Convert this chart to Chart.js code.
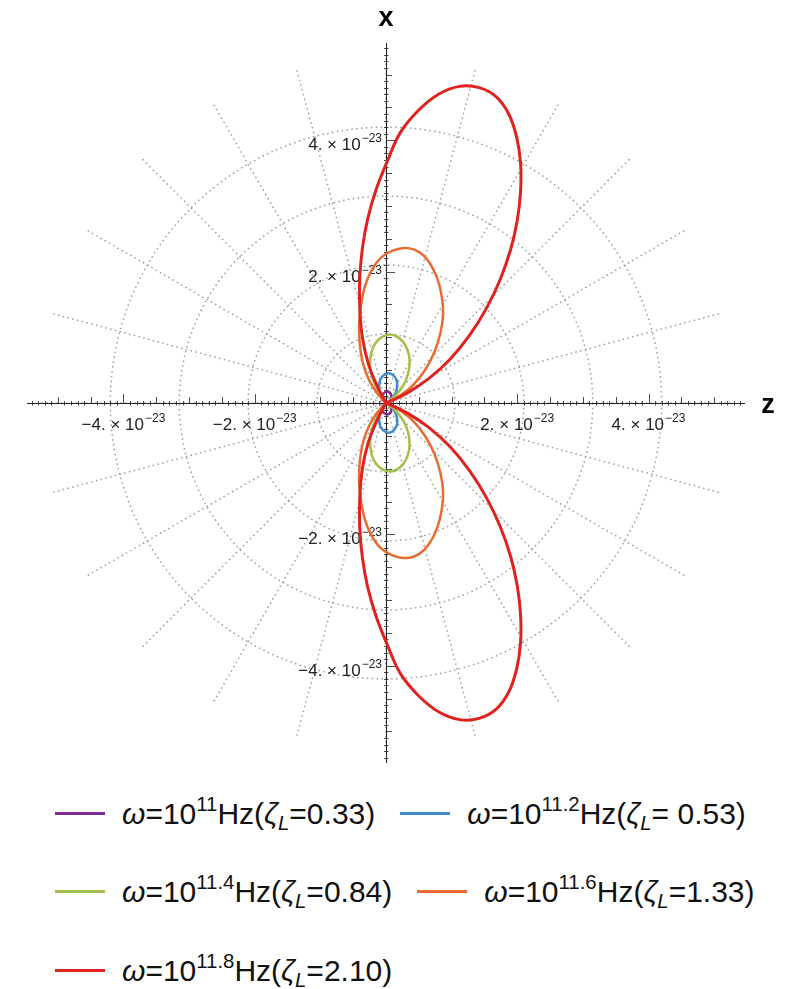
<!DOCTYPE html>
<html>
<head>
<meta charset="utf-8">
<script src="https://cdn.jsdelivr.net/npm/chart.js@4.4.1/dist/chart.umd.min.js"></script>
<style>
  html, body { margin: 0; padding: 0; background: #fff; }
  #wrap { position: relative; width: 785px; height: 989px; overflow: hidden; font-family: "Liberation Sans", Arial, sans-serif; color: #111; }
  #plot { position: absolute; left: 0; top: 0; width: 785px; height: 780px; }
  #legend { position: absolute; left: 55px; top: 788px; }
  .row { display: flex; align-items: center; height: 50px; margin-bottom: 28.5px; }
  .item { display: flex; align-items: center; margin-right: 25px; font-size: 30px; white-space: nowrap; line-height: 1.1; }
  .swatch { width: 50px; height: 3px; margin-right: 17px; }
  .item sup, .item sub { font-size: 0.68em; line-height: 1; position: relative; vertical-align: baseline; }
  .item sup { top: -0.62em; }
  .item sub { top: 0.3em; }
</style>
</head>
<body>
<div id="wrap">
  <canvas id="plot" width="785" height="780"></canvas>
  <div id="legend"></div>
</div>
<script>
// Lobes, [z, x] in units of 1e-23
const purpleUpper = [[0,0],[-0.05,0.05],[-0.06,0.11],[-0.02,0.16],[0.04,0.17],[0.08,0.12],[0.07,0.05],[0.03,0.01],[0,0]];
const purpleLower = [[0,0],[-0.05,-0.05],[-0.06,-0.11],[-0.02,-0.16],[0.04,-0.17],[0.08,-0.12],[0.07,-0.05],[0.03,-0.01],[0,0]];

const blueUpper = [[0,0],[-0.06,0.09],[-0.10,0.20],[-0.10,0.31],[-0.06,0.40],[0.02,0.45],[0.10,0.43],[0.16,0.35],[0.17,0.24],[0.13,0.12],[0.06,0.04],[0,0]];
const blueLower = [[0,0],[-0.06,-0.09],[-0.10,-0.20],[-0.10,-0.31],[-0.06,-0.40],[0.02,-0.45],[0.10,-0.43],[0.16,-0.35],[0.17,-0.24],[0.13,-0.12],[0.06,-0.04],[0,0]];

const greenUpper = [[0,0],[-0.08,0.12],[-0.17,0.28],[-0.23,0.47],[-0.24,0.66],[-0.20,0.84],[-0.11,0.97],[0.02,1.04],[0.15,1.02],[0.26,0.93],[0.33,0.80],[0.36,0.64],[0.34,0.46],[0.27,0.28],[0.15,0.12],[0,0]];
const greenLower = [[0,0],[-0.08,-0.12],[-0.17,-0.28],[-0.23,-0.47],[-0.24,-0.66],[-0.20,-0.84],[-0.11,-0.97],[0.02,-1.04],[0.15,-1.02],[0.26,-0.93],[0.33,-0.80],[0.36,-0.64],[0.34,-0.46],[0.27,-0.28],[0.15,-0.12],[0,0]];

const orangeUpper = [[0,0],[-0.12,0.13],[-0.25,0.33],[-0.35,0.60],[-0.40,0.90],[-0.41,1.20],[-0.38,1.50],[-0.32,1.78],[-0.22,2.02],[-0.08,2.21],[0.10,2.32],[0.30,2.36],[0.50,2.30],[0.66,2.14],[0.78,1.90],[0.85,1.62],[0.87,1.35],[0.83,1.07],[0.74,0.78],[0.60,0.51],[0.42,0.28],[0.21,0.11],[0,0]];
const orangeLower = [[0,0],[-0.12,-0.13],[-0.25,-0.33],[-0.35,-0.60],[-0.40,-0.90],[-0.41,-1.20],[-0.38,-1.50],[-0.32,-1.78],[-0.22,-2.02],[-0.08,-2.21],[0.10,-2.32],[0.30,-2.36],[0.50,-2.30],[0.66,-2.14],[0.78,-1.90],[0.85,-1.62],[0.87,-1.35],[0.83,-1.07],[0.74,-0.78],[0.60,-0.51],[0.42,-0.28],[0.21,-0.11],[0,0]];

const redUpper = [[0,0],[-0.13,0.25],[-0.27,0.60],[-0.36,1.00],[-0.40,1.45],[-0.40,1.90],[-0.36,2.35],[-0.28,2.80],[-0.15,3.25],[0.02,3.68],[0.22,4.12],[0.50,4.46],[0.80,4.70],[1.12,4.82],[1.42,4.80],[1.68,4.66],[1.87,4.40],[1.99,4.05],[2.05,3.65],[2.05,3.22],[2.00,2.78],[1.90,2.34],[1.74,1.88],[1.53,1.44],[1.28,1.04],[0.98,0.67],[0.65,0.37],[0.32,0.15],[0,0]];
const redLower = [[0,0],[-0.13,-0.25],[-0.27,-0.60],[-0.36,-1.00],[-0.40,-1.45],[-0.40,-1.90],[-0.36,-2.35],[-0.28,-2.80],[-0.15,-3.25],[0.02,-3.68],[0.22,-4.12],[0.50,-4.46],[0.80,-4.70],[1.12,-4.82],[1.42,-4.80],[1.68,-4.66],[1.87,-4.40],[1.99,-4.05],[2.05,-3.65],[2.05,-3.22],[2.00,-2.78],[1.90,-2.34],[1.74,-1.88],[1.53,-1.44],[1.28,-1.04],[0.98,-0.67],[0.65,-0.37],[0.32,-0.15],[0,0]];

// legend text
const freqExp = ['11', '11.2', '11.4', '11.6', '11.8'];
const zetaL = ['0.33', ' 0.53', '0.84', '1.33', '2.10'];
const colors = ['#7e2a8e', '#3f8ccc', '#a2c04a', '#e86b31', '#e0221f'];
const widths = [2.5, 2.5, 2.5, 2.5, 3];

// axes / polar grid
const tickLabels = [-4, -2, 2, 4];
const tickExp = '\u221223';
const gridRadii = [1.05, 2.1, 3.15, 4.2];
const gridOuter = 5.25;
const gridStepDeg = 15;

const lobes = [
  [purpleUpper, purpleLower],
  [blueUpper, blueLower],
  [greenUpper, greenLower],
  [orangeUpper, orangeLower],
  [redUpper, redLower]
];

const toPts = arr => arr.map(p => ({ x: p[0], y: p[1] }));

const datasets = lobes.map((l, i) => ({
  data: [...toPts(l[0]), { x: null, y: null }, ...toPts(l[1])],
  showLine: true,
  borderColor: colors[i],
  borderWidth: widths[i],
  pointRadius: 0,
  tension: 0.4,
  fill: false,
  spanGaps: false,
  order: lobes.length - i
}));

const FONT = '"Liberation Sans", Arial, sans-serif';

// draw "4. × 10^-23" style label
function drawSci(ctx, v, x, y, align) {
  const mant = (v < 0 ? '\u2212' : '') + Math.abs(v) + '. \u00d7 10';
  ctx.font = '17px ' + FONT;
  const w1 = ctx.measureText(mant).width;
  ctx.font = '12px ' + FONT;
  const w2 = ctx.measureText(tickExp).width;
  const total = w1 + 1 + w2;
  const left = align === 'right' ? x - total : x - total / 2;
  ctx.textAlign = 'left';
  ctx.textBaseline = 'alphabetic';
  ctx.font = '17px ' + FONT;
  ctx.fillText(mant, left, y);
  ctx.font = '12px ' + FONT;
  ctx.fillText(tickExp, left + w1 + 1, y - 8);
}

const polarPlugin = {
  id: 'polarAxes',
  beforeDatasetsDraw(chart) {
    const { ctx, chartArea: a, scales: { x: sx, y: sy } } = chart;
    const cx = sx.getPixelForValue(0);
    const cy = sy.getPixelForValue(0);
    const kx = sx.getPixelForValue(1) - cx;
    const ky = cy - sy.getPixelForValue(1);

    // dotted polar grid
    ctx.save();
    ctx.strokeStyle = '#9c9c9c';
    ctx.lineWidth = 1.5;
    ctx.setLineDash([1.5, 3.4]);
    gridRadii.forEach(r => {
      ctx.beginPath();
      ctx.ellipse(cx, cy, r * kx, r * ky, 0, 0, Math.PI * 2);
      ctx.stroke();
    });
    for (let d = 0; d < 360; d += gridStepDeg) {
      const t = d * Math.PI / 180;
      ctx.beginPath();
      ctx.moveTo(cx, cy);
      ctx.lineTo(cx + Math.cos(t) * gridOuter * kx, cy - Math.sin(t) * gridOuter * ky);
      ctx.stroke();
    }
    ctx.restore();

    // axes
    ctx.save();
    ctx.strokeStyle = '#222';
    ctx.lineWidth = 1;
    ctx.beginPath();
    ctx.moveTo(a.left, cy + 0.5); ctx.lineTo(a.right, cy + 0.5);
    ctx.moveTo(cx + 0.5, a.top); ctx.lineTo(cx + 0.5, a.bottom);
    ctx.stroke();

    ctx.lineWidth = 0.8;
    ctx.beginPath();
    for (let i = -54; i <= 54; i++) {
      if (i === 0) continue;
      const v = i / 10;
      const px = Math.round(sx.getPixelForValue(v)) + 0.5;
      const py = Math.round(sy.getPixelForValue(v)) + 0.5;
      let len = 0;
      if (i % 20 === 0) len = 9;
      else if (i % 5 === 0) len = 6;
      if (len) {
        ctx.moveTo(px, cy); ctx.lineTo(px, cy - len);
        ctx.moveTo(cx, py); ctx.lineTo(cx + len, py);
      } else {
        ctx.moveTo(px, cy - 2); ctx.lineTo(px, cy + 2.5);
        ctx.moveTo(cx - 2, py); ctx.lineTo(cx + 2.5, py);
      }
    }
    ctx.stroke();

    ctx.fillStyle = '#222';
    tickLabels.forEach(v => {
      drawSci(ctx, v, sx.getPixelForValue(v), cy + 27, 'center');
      drawSci(ctx, v, cx - 4, sy.getPixelForValue(v) + 10, 'right');
    });

    // axis names
    ctx.fillStyle = '#000';
    ctx.font = 'bold 27px ' + FONT;
    ctx.textAlign = 'center';
    ctx.textBaseline = 'alphabetic';
    ctx.fillText('x', cx, 26);
    ctx.fillText('z', 768, cy + 10);
    ctx.restore();
  }
};

new Chart(document.getElementById('plot'), {
  type: 'scatter',
  data: { datasets },
  options: {
    responsive: false,
    animation: false,
    devicePixelRatio: 1,
    layout: { padding: { left: 27, right: 40, top: 43, bottom: 17 } },
    scales: {
      x: { type: 'linear', min: -5.47, max: 5.47, display: false },
      y: { type: 'linear', min: -5.48, max: 5.48, display: false }
    },
    plugins: { legend: { display: false }, tooltip: { enabled: false } }
  },
  plugins: [polarPlugin]
});

// legend rows laid out like the original (2, 2, 1)
const rows = [[0, 1], [2, 3], [4]];
const legend = document.getElementById('legend');
rows.forEach(r => {
  const row = document.createElement('div');
  row.className = 'row';
  r.forEach(i => {
    const item = document.createElement('div');
    item.className = 'item';
    item.innerHTML = '<span class="swatch" style="background:' + colors[i] + '"></span>' +
      '<span><i>\u03c9</i>=10<sup>' + freqExp[i] + '</sup>Hz(<i>\u03b6</i><sub><i>L</i></sub>=' + zetaL[i] + ')</span>';
    row.appendChild(item);
  });
  legend.appendChild(row);
});
</script>
</body>
</html>
